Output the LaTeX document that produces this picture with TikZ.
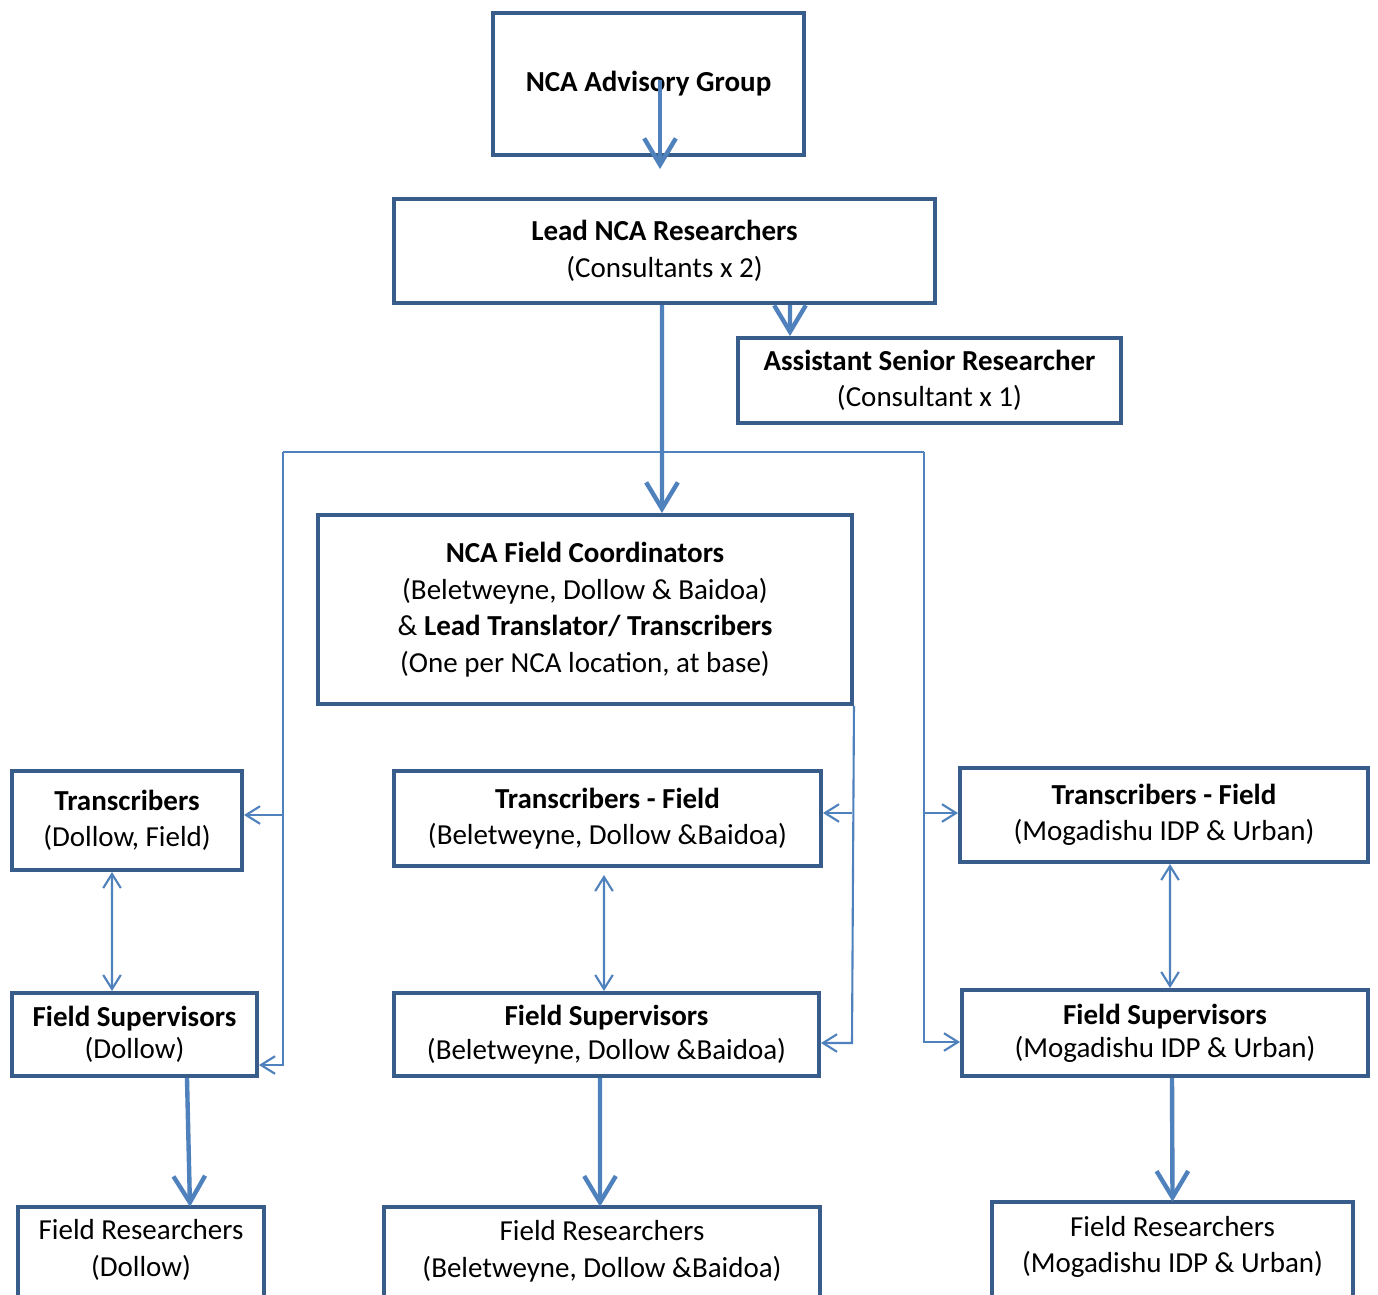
\documentclass[tikz,border=0pt]{standalone}
\usepackage{fontspec}
\setmainfont{Carlito}
\usetikzlibrary{arrows.meta}
\definecolor{boxblue}{HTML}{385D8A}
\definecolor{lineblue}{HTML}{4F81BD}
\begin{document}
\begin{tikzpicture}[x=0.02cm,y=-0.02cm,
  box/.style={draw=boxblue, line width=2.3pt, align=center, inner sep=0pt, text=black,
    font=\fontsize{16.5}{20.8}\selectfont},
  openbox/.style={align=center, inner sep=0pt, text=black,
    font=\fontsize{16.5}{20.8}\selectfont},
  boxline/.style={draw=boxblue, line width=2.3pt},
  thickarr/.style={draw=lineblue, line width=2.5pt, -{Straight Barb[length=15pt,width=18pt]}},
  thinarr/.style={draw=lineblue, line width=1.2pt, -{Straight Barb[length=8pt,width=10pt]}},
  dblarr/.style={draw=lineblue, line width=1.2pt, {Straight Barb[length=8pt,width=10pt]}-{Straight Barb[length=8pt,width=10pt]}},
  busline/.style={draw=lineblue, line width=1.7pt}]
\useasboundingbox (0,0) rectangle (1378,1294);
\clip (0,0) rectangle (1378,1294);
\fill[white] (0,0) rectangle (1378,1294);

% boxes
\node[box, minimum width=6.22cm, minimum height=2.84cm] (adv) at (648.5,84) {\textbf{NCA Advisory Group}};
\node[box, minimum width=10.82cm, minimum height=2.08cm] (lead) at (664.5,251) {\textbf{Lead NCA Researchers}\\(Consultants x 2)};
\node[box, minimum width=7.66cm, minimum height=1.70cm] (asst) at (929.5,380.5) {\textbf{Assistant Senior Researcher}\\(Consultant x 1)};
\node[box, minimum width=10.68cm, minimum height=3.78cm] (fc) at (585,609.5) {\textbf{NCA Field Coordinators}\\(Beletweyne, Dollow \& Baidoa)\\\& \textbf{Lead Translator/ Transcribers}\\(One per NCA location, at base)};
\node[box, minimum width=4.60cm, minimum height=1.98cm] (tr1) at (127,820.5) {\textbf{Transcribers}\\(Dollow, Field)};
\node[box, minimum width=8.54cm, minimum height=1.90cm] (tr2) at (607.5,818.5) {\textbf{Transcribers - Field}\\(Beletweyne, Dollow \&Baidoa)};
\node[box, minimum width=8.16cm, minimum height=1.88cm] (tr3) at (1164,815) {\textbf{Transcribers - Field}\\(Mogadishu IDP \& Urban)};
\node[box, minimum width=4.90cm, minimum height=1.66cm, font=\fontsize{16.5}{18.5}\selectfont] (fs1) at (134.5,1034.5) {\textbf{Field Supervisors}\\(Dollow)};
\node[box, minimum width=8.50cm, minimum height=1.66cm, font=\fontsize{16.5}{19}\selectfont] (fs2) at (606.5,1034.5) {\textbf{Field Supervisors}\\(Beletweyne, Dollow \&Baidoa)};
\node[box, minimum width=8.12cm, minimum height=1.72cm, font=\fontsize{16.5}{19}\selectfont] (fs3) at (1165,1033) {\textbf{Field Supervisors}\\(Mogadishu IDP \& Urban)};
\node[openbox, minimum width=4.92cm, minimum height=1.72cm] (fr1) at (141,1250) {Field Researchers\\(Dollow)};
\node[openbox, minimum width=8.72cm, minimum height=1.76cm] (fr2) at (602,1251) {Field Researchers\\(Beletweyne, Dollow \&Baidoa)};
\node[openbox, minimum width=7.22cm, minimum height=1.80cm] (fr3) at (1172.5,1247) {Field Researchers\\(Mogadishu IDP \& Urban)};
\foreach \n in {fr1,fr2,fr3}{
  \draw[boxline] ([yshift=-1cm]\n.south west) -- (\n.north west) -- (\n.north east) -- ([yshift=-1cm]\n.south east);
}

% main arrows
\draw[thickarr] ([xshift=0.23cm,yshift=0.08cm]adv.center) -- ([xshift=0.23cm,yshift=-0.24cm]adv.south);
\draw[thickarr] ([xshift=-0.05cm]lead.south) -- ([xshift=1.54cm]fc.north);
\draw[thickarr] ([xshift=2.51cm]lead.south) -- ([xshift=-2.79cm]asst.north);

% bus
\coordinate (busL) at (283,452);
\coordinate (busR) at (924,452);
\draw[busline] (busL) -- (busR);

% left branch
\coordinate (cornL) at (283,1065);
\coordinate (jL1) at (283,815);
\draw[thinarr] (busL) -- (cornL) -- (cornL -| fs1.east);
\draw[thinarr] (jL1) -- (jL1 -| tr1.east);

% middle branch
\coordinate (cornM) at (852,1043);
\coordinate (jM1) at (852,813);
\draw[thinarr] (fc.south east) -- (cornM) -- (cornM -| fs2.east);
\draw[thinarr] (jM1) -- (jM1 -| tr2.east);

% right branch
\coordinate (cornR) at (924,1042);
\coordinate (jR1) at (924,813);
\draw[thinarr] (busR) -- (cornR) -- (cornR -| fs3.west);
\draw[thinarr] (jR1) -- (jR1 -| tr3.west);

% double arrows
\draw[dblarr] ([xshift=-0.30cm]tr1.south) -- ([xshift=-0.45cm]fs1.north);
\draw[dblarr] ([xshift=-0.07cm,yshift=-0.14cm]tr2.south) -- ([xshift=-0.05cm]fs2.north);
\draw[dblarr] ([xshift=0.12cm]tr3.south) -- ([xshift=0.10cm]fs3.north);

% down arrows
\draw[thickarr] ([xshift=1.05cm]fs1.south) -- ([xshift=0.98cm]fr1.north);
\draw[thickarr] ([xshift=-0.13cm]fs2.south) -- ([xshift=-0.04cm]fr2.north);
\draw[thickarr] ([xshift=0.14cm]fs3.south) -- (fr3.north);
\end{tikzpicture}
\end{document}
